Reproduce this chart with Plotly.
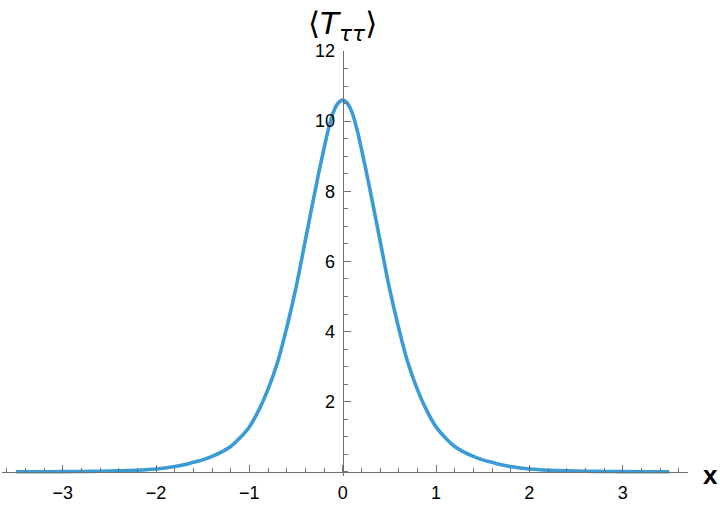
import plotly.graph_objects as go

# values (right half, mirrored for x < 0)
x_half = [0.0, 0.05, 0.1, 0.15, 0.2, 0.25, 0.3, 0.4, 0.5, 0.6, 0.7, 0.8, 0.9, 1.0, 1.1, 1.2, 1.3, 1.4,
          1.5, 1.6, 1.7, 1.8, 1.9, 2.0, 2.2, 2.4, 2.6, 2.8, 3.0, 3.25, 3.5]
t_half = [10.6, 10.51, 10.25, 9.8, 9.22, 8.6, 7.95, 6.6, 5.25, 4.1, 3.1, 2.35, 1.75, 1.28, 0.97, 0.72, 0.56, 0.44,
          0.34, 0.27, 0.2, 0.15, 0.11, 0.08, 0.045, 0.025, 0.014, 0.008, 0.005, 0.002, 0.001]

x_ticks = [-3, -2, -1, 0, 1, 2, 3]
y_ticks = [2, 4, 6, 8, 10, 12]

xs = [-v for v in reversed(x_half[1:])] + x_half
ts = list(reversed(t_half[1:])) + t_half

x_range = [-3.65, 3.70]
y_range = [-0.12, 12]

axis_col = "#707070"
font = "Liberation Sans, Arial, sans-serif"

fig = go.Figure()
fig.add_trace(go.Scatter(x=xs, y=ts, mode="lines", line=dict(color="#3b9bd4", width=3.6, shape="spline", smoothing=1),
                         hoverinfo="skip", showlegend=False))

fig.update_layout(
    width=720, height=505,
    margin=dict(l=2, r=32, t=51, b=29),
    plot_bgcolor="white", paper_bgcolor="white",
    showlegend=False,
    xaxis=dict(range=x_range, showgrid=False, zeroline=False, showline=True, linecolor=axis_col, linewidth=1,
               tickvals=x_ticks, ticks="inside", ticklen=7, tickcolor=axis_col,
               minor=dict(dtick=0.2, ticks="inside", ticklen=4, tickcolor=axis_col, showgrid=False),
               tickfont=dict(family=font, size=18, color="black"),
               anchor="free", position=(0 - y_range[0]) / (y_range[1] - y_range[0]),
               ticklabelstandoff=5, automargin=False),
    yaxis=dict(range=y_range, showgrid=False, zeroline=False, showline=True, linecolor=axis_col, linewidth=1,
               tickvals=y_ticks, ticks="inside", ticklen=7, tickcolor=axis_col,
               minor=dict(dtick=0.5, ticks="inside", ticklen=4, tickcolor=axis_col, showgrid=False),
               tickfont=dict(family=font, size=18, color="black"),
               anchor="free", position=(0 - x_range[0]) / (x_range[1] - x_range[0]),
               ticklabelstandoff=4, automargin=False),
)

fig.add_annotation(text="⟨<i>T</i><sub><i>ττ</i></sub>⟩", xref="x", x=0, yref="paper", y=1,
                   xanchor="center", yanchor="bottom", yshift=3, showarrow=False,
                   font=dict(family="DejaVu Sans, sans-serif", size=31, color="black"))
fig.add_annotation(text="<b>x</b>", xref="paper", x=1, yref="y", y=0,
                   xanchor="center", yanchor="middle", xshift=22, yshift=-3, showarrow=False,
                   font=dict(family=font, size=26, color="black"))

# the page body has a default 8px margin; drop it so the figure fills the window
fig.write_html("out.html", config={"displayModeBar": False},
               post_script="document.body.style.margin='0';")
